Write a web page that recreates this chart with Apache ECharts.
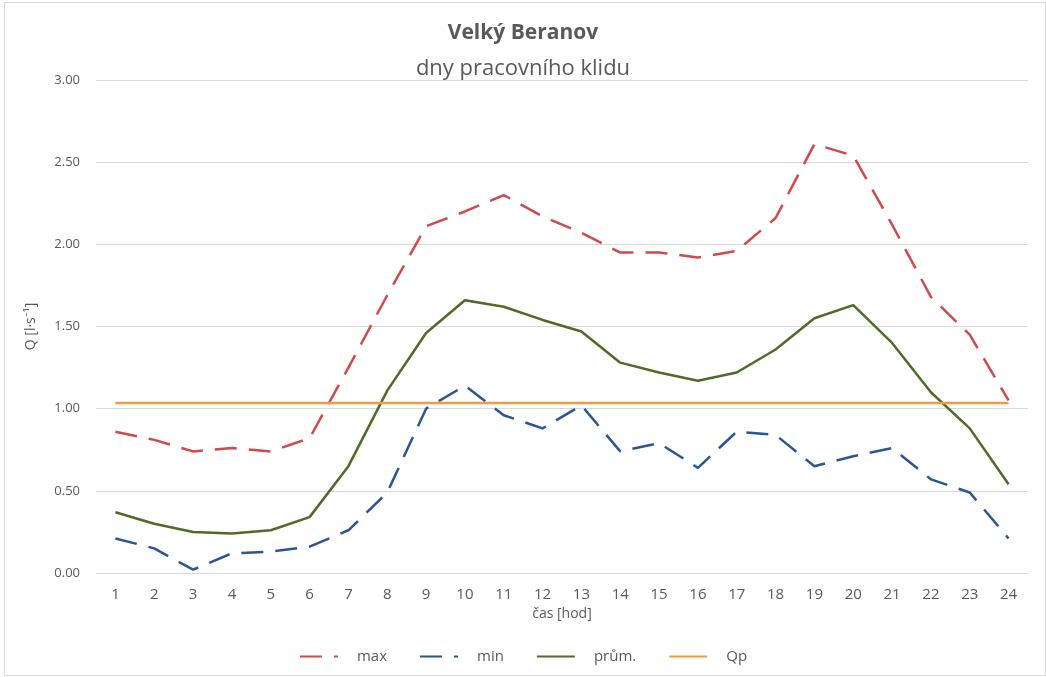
<!DOCTYPE html>
<html>
<head>
<meta charset="utf-8">
<script src="https://cdn.jsdelivr.net/npm/echarts@6/dist/echarts.min.js"></script>
<style>
  html, body { margin: 0; padding: 0; background: #fff; }
  #chart { width: 1046px; height: 677px; }
  #frame { position: absolute; left: 4px; top: 2px; width: 1040px; height: 672px; border: 1px solid #d9d9d9; pointer-events: none; }
</style>
</head>
<body>
<div id="chart"></div>
<div id="frame"></div>
<script>
const hours = ['1','2','3','4','5','6','7','8','9','10','11','12','13','14','15','16','17','18','19','20','21','22','23','24']
const maxVals = [0.86, 0.81, 0.74, 0.76, 0.74, 0.82, 1.25, 1.69, 2.11, 2.20, 2.30, 2.17, 2.07, 1.95, 1.95, 1.92, 1.96, 2.16, 2.61, 2.54, 2.12, 1.68, 1.45, 1.05]
const minVals = [0.21, 0.15, 0.02, 0.12, 0.13, 0.16, 0.26, 0.49, 1.00, 1.14, 0.96, 0.88, 1.02, 0.74, 0.79, 0.64, 0.86, 0.84, 0.65, 0.71, 0.76, 0.57, 0.49, 0.21]
const avgVals = [0.37, 0.30, 0.25, 0.24, 0.26, 0.34, 0.65, 1.11, 1.46, 1.66, 1.62, 1.54, 1.47, 1.28, 1.22, 1.17, 1.22, 1.36, 1.55, 1.63, 1.40, 1.10, 0.88, 0.54]
const qpVals = [1.035, 1.035, 1.035, 1.035, 1.035, 1.035, 1.035, 1.035, 1.035, 1.035, 1.035, 1.035, 1.035, 1.035, 1.035, 1.035, 1.035, 1.035, 1.035, 1.035, 1.035, 1.035, 1.035, 1.035]

const font = '"Open Sans", "Liberation Sans", sans-serif'
const grey = '#595959'

const chart = echarts.init(document.getElementById('chart'))
const options = {
  animation: false,
  textStyle: { fontFamily: font },
  title: {
    text: 'Velký Beranov',
    subtext: 'dny pracovního klidu',
    left: 'center',
    top: 18,
    itemGap: 14,
    textStyle: { fontSize: 21, fontWeight: 'bold', color: grey, fontFamily: font },
    subtextStyle: { fontSize: 22, color: grey, fontFamily: font }
  },
  grid: {
    left: 96,
    right: 18,
    top: 80,
    bottom: 104
  },
  legend: {
    bottom: 8,
    left: 'center',
    itemWidth: 38,
    itemHeight: 10,
    itemGap: 32,
    itemStyle: { opacity: 0 },
    textStyle: { fontSize: 15, color: grey, fontFamily: font, padding: [0, 0, 0, 14] },
    data: ['max', 'min', 'prům.', 'Qp']
  },
  xAxis: {
    type: 'category',
    data: hours,
    name: 'čas [hod]',
    nameLocation: 'middle',
    nameGap: 24,
    nameTextStyle: { fontSize: 14, color: grey },
    axisLine: { lineStyle: { color: '#d9d9d9' } },
    axisTick: { show: false },
    axisLabel: { fontSize: 15, color: grey, margin: 14 }
  },
  yAxis: {
    type: 'value',
    min: 0,
    max: 3,
    interval: 0.5,
    name: 'Q [l·s⁻¹]',
    nameLocation: 'middle',
    nameGap: 58,
    nameRotate: 90,
    nameTextStyle: { fontSize: 14, color: grey },
    axisLine: { show: false },
    axisTick: { show: false },
    axisLabel: { fontSize: 13, color: grey, margin: 16, formatter: (v) => v.toFixed(2) },
    splitLine: { lineStyle: { color: '#d9d9d9', width: 1 } }
  },
  series: [
    {
      name: 'max',
      type: 'line',
      data: maxVals,
      symbol: 'none',
      itemStyle: { color: '#d0494b' },
      lineStyle: { width: 2.5, color: '#d0494b', type: [22, 12] }
    },
    {
      name: 'min',
      type: 'line',
      data: minVals,
      symbol: 'none',
      itemStyle: { color: '#2b5593' },
      lineStyle: { width: 2.5, color: '#2b5593', type: [22, 12] }
    },
    {
      name: 'prům.',
      type: 'line',
      data: avgVals,
      symbol: 'none',
      itemStyle: { color: '#4f6b28' },
      lineStyle: { width: 2.5, color: '#4f6b28' }
    },
    {
      name: 'Qp',
      type: 'line',
      data: qpVals,
      symbol: 'none',
      itemStyle: { color: '#f59a3e' },
      lineStyle: { width: 2.5, color: '#f59a3e' }
    }
  ]
}
chart.setOption(options)
</script>
</body>
</html>
